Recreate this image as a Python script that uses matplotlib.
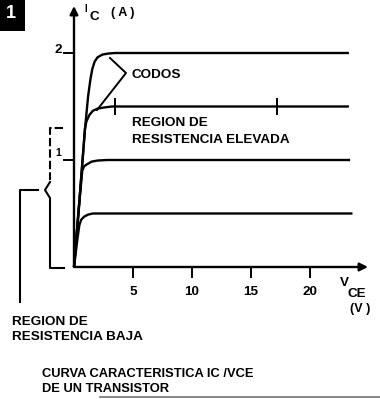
import matplotlib
matplotlib.use("Agg")
import matplotlib.pyplot as plt

# characteristic curves I_C vs V_CE
v_top = [0, 0.5, 0.93, 1.2, 1.4, 1.55, 1.75, 2.0, 2.4, 2.9, 3.5, 23.3]
i_top = [0, 0.68, 1.29, 1.6, 1.76, 1.85, 1.92, 1.96, 1.985, 1.995, 2.0, 2.0]
v_15 = [0, 0.5, 0.93, 1.05, 1.3, 1.6, 2.0, 2.5, 3.2, 23.3]
i_15 = [0, 0.68, 1.29, 1.36, 1.42, 1.46, 1.48, 1.49, 1.5, 1.5]
v_10 = [0, 0.5, 0.7, 0.85, 1.1, 1.5, 2.0, 2.8, 23.4]
i_10 = [0, 0.66, 0.9, 0.94, 0.96, 0.985, 0.995, 1.0, 1.0]
v_05 = [0, 0.3, 0.45, 0.6, 0.85, 1.2, 1.6, 2.4, 23.6]
i_05 = [0, 0.27, 0.39, 0.44, 0.47, 0.49, 0.5, 0.5, 0.5]
curves = [(v_top, i_top), (v_15, i_15), (v_10, i_10), (v_05, i_05)]

x_ticks = [5, 10, 15, 20]
y_ticks = [1, 2]
marks_15 = [3.5, 17.2]   # small crossing ticks on the 1.5 A curve

# pixel layout -> data coords
def X(px):
    return (px - 74) / 11.8

def Y(py):
    return (267 - py) / 107.0

fig = plt.figure(figsize=(3.8, 3.99), dpi=100)
ax = fig.add_axes([0, 0, 1, 1])
ax.set_xlim(X(0), X(380))
ax.set_ylim(Y(399), Y(0))
ax.axis("off")

font = dict(family=["Liberation Sans", "DejaVu Sans"], weight="bold", color="black")
fs = 9.7
lw = 1.7

# axes with arrows
ax.annotate("", xy=(0, Y(6)), xytext=(0, 0),
            arrowprops=dict(arrowstyle="-|>", lw=lw, color="black", mutation_scale=12, shrinkA=0, shrinkB=0))
ax.annotate("", xy=(X(368), 0), xytext=(0, 0),
            arrowprops=dict(arrowstyle="-|>", lw=lw, color="black", mutation_scale=12, shrinkA=0, shrinkB=0))

for v in x_ticks:
    ax.plot([v, v], [0, Y(277)], color="black", lw=1.4)
    ax.text(v, Y(292), str(v), ha="center", va="center", fontsize=fs, **font)
for i in y_ticks:
    ax.plot([X(64), 0], [i, i], color="black", lw=1.4)
ax.text(X(58), Y(50), "2", ha="center", va="center", fontsize=fs, **font)
ax.text(X(58), Y(153), "1", ha="center", va="center", fontsize=7.5, **font)

for v, i in curves:
    ax.plot(v, i, color="black", lw=lw, solid_capstyle="butt")
for m in marks_15:
    ax.plot([m, m], [1.5 - 0.07, 1.5 + 0.07], color="black", lw=1.4)

# axis labels
ax.text(X(86), Y(9), "I", ha="center", va="center", fontsize=7, **font)
ax.text(X(90), Y(17), "C", ha="left", va="center", fontsize=fs, **font)
ax.text(X(111), Y(13), "( A )", ha="left", va="center", fontsize=9, **font)
ax.text(X(340), Y(283), "V", ha="left", va="center", fontsize=fs, **font)
ax.text(X(347), Y(294), "CE", ha="left", va="center", fontsize=fs, **font)
ax.text(X(350), Y(309), "(V )", ha="left", va="center", fontsize=9, **font)

# codos bracket
ax.plot([X(110), X(126), X(97)], [Y(58), Y(73), Y(110)], color="black", lw=1.4)
ax.text(X(131), Y(75), "CODOS", ha="left", va="center", fontsize=fs, **font)
ax.text(X(132), Y(123), "REGION DE", ha="left", va="center", fontsize=fs, **font)
ax.text(X(132), Y(140), "RESISTENCIA ELEVADA", ha="left", va="center", fontsize=fs, **font)

# left bracket for low-resistance region
ax.plot([X(63), X(50), X(50)], [Y(128), Y(128), Y(180)], color="black", lw=1.5, ls=(0, (4, 1.5)))
ax.plot([X(50), X(45), X(50), X(50), X(64)], [Y(182), Y(190), Y(198), Y(268), Y(268)], color="black", lw=1.5)
ax.plot([X(38), X(20), X(20)], [Y(190), Y(190), Y(302)], color="black", lw=1.5)
ax.text(X(12), Y(322), "REGION DE", ha="left", va="center", fontsize=fs, **font)
ax.text(X(12), Y(337), "RESISTENCIA BAJA", ha="left", va="center", fontsize=fs, **font)

# caption
ax.text(X(42), Y(374), "CURVA CARACTERISTICA IC /VCE", ha="left", va="center", fontsize=9.3, **font)
ax.text(X(42), Y(389), "DE UN TRANSISTOR", ha="left", va="center", fontsize=9.3, **font)
ax.plot([X(100), X(380)], [Y(397), Y(397)], color="0.45", lw=1.2)

# figure number box
ax.fill([X(0), X(25), X(25), X(0)], [Y(0), Y(0), Y(31), Y(31)], color="black", lw=0)
ax.text(X(11), Y(14), "1", ha="center", va="center", fontsize=13, family=["Liberation Sans", "DejaVu Sans"],
        weight="bold", color="white")

fig.savefig("out.png", dpi=100)
